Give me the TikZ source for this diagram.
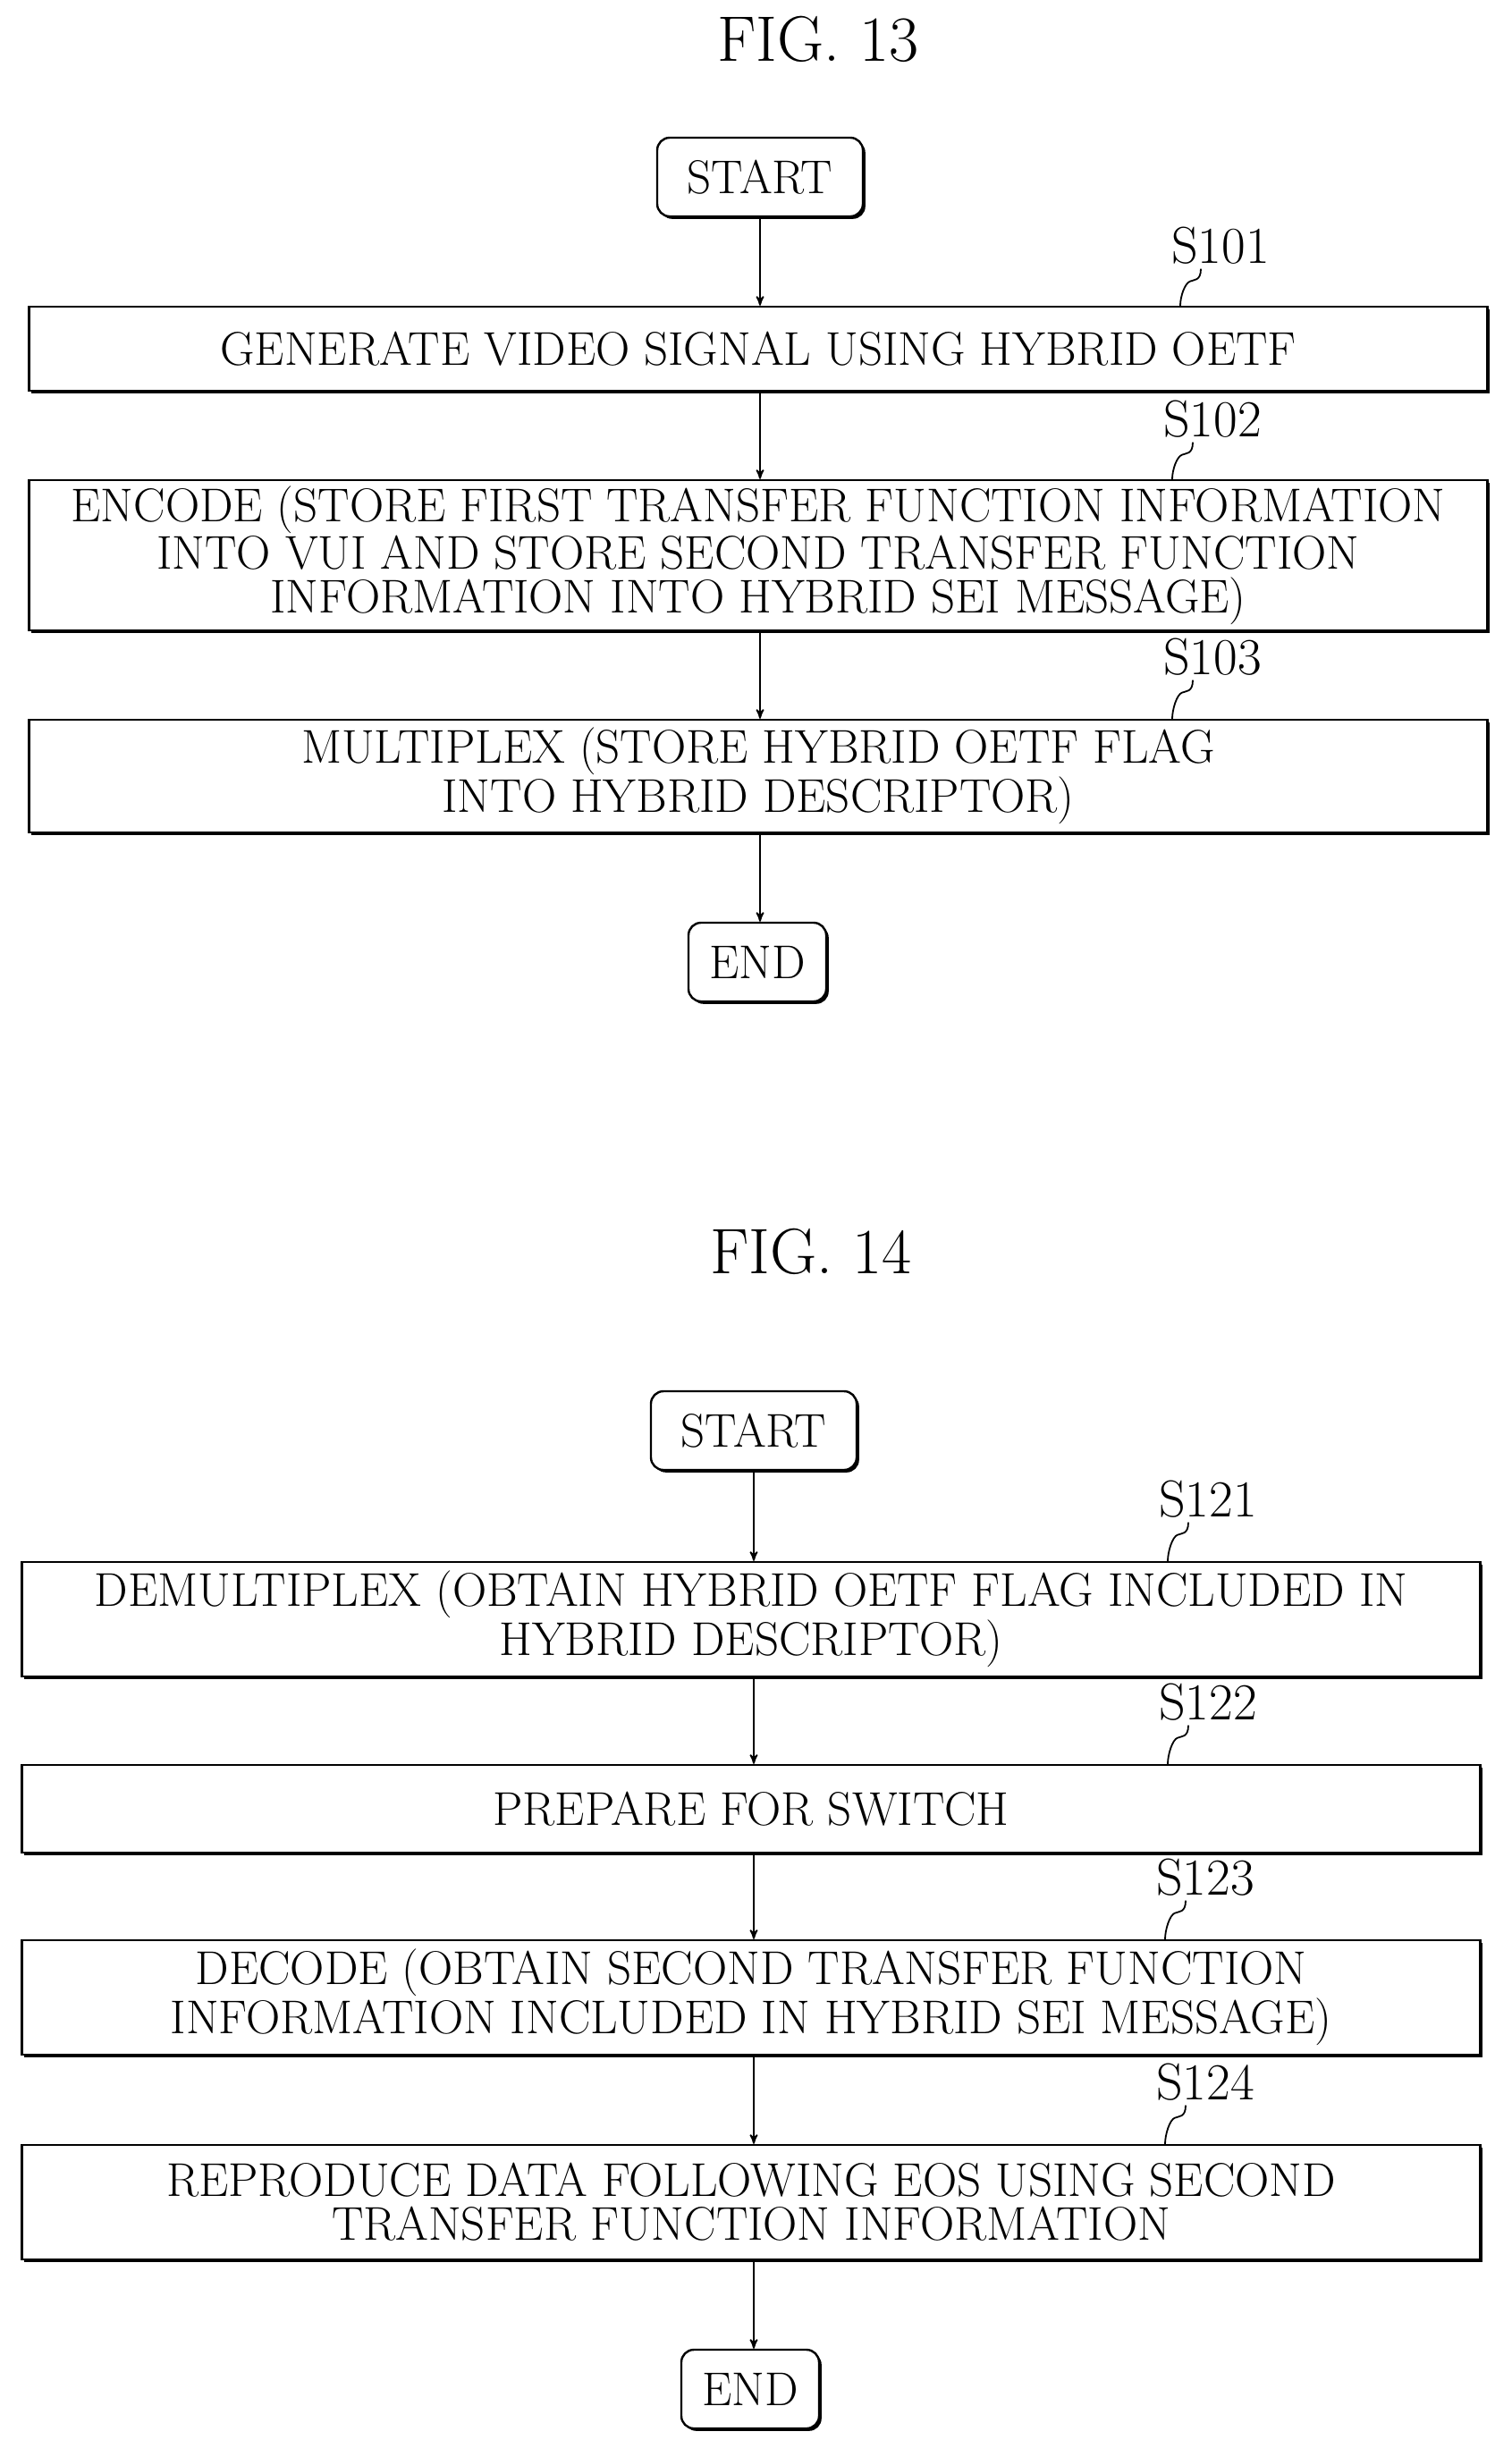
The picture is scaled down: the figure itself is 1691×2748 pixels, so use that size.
\documentclass[tikz,border=0pt]{standalone}
\usepackage{amsmath}
\usetikzlibrary{positioning, arrows, shadows, calc}

\tikzset{
    stepbox/.style={draw, line width=1.2pt, fill=white, minimum width=815.5pt, align=center,
        font=\fontsize{26.5}{24.5}\selectfont, inner sep=3pt,
        drop shadow={shadow xshift=1.4pt, shadow yshift=-1.4pt, fill=black, opacity=1}},
    termbox/.style={draw, line width=1.2pt, fill=white, rounded corners=7pt, minimum height=44pt,
        font=\fontsize{26.5}{24.5}\selectfont, inner xsep=8pt,
        drop shadow={shadow xshift=1.4pt, shadow yshift=-1.4pt, fill=black, opacity=1}},
    steplbl/.style={font=\fontsize{29}{30}\selectfont, inner sep=1pt},
    figlbl/.style={font=\fontsize{36}{38}\selectfont}
}

\begin{document}
\begin{tikzpicture}[>=stealth', x=0.5pt, y=-0.5pt, line width=0.9pt]
        \useasboundingbox (0,0) rectangle (1691,2748);

        % FIG. 13
        \node[figlbl] (fig13) at (915,44) {FIG. 13};
        \node[termbox, minimum width=115pt] (start1) at (850,198) {START};
        \node[stepbox, minimum height=47pt] (s101) at (848,390) {GENERATE VIDEO SIGNAL USING HYBRID OETF};
        \node[stepbox, minimum height=84pt] (s102) at (848,621) {ENCODE (STORE FIRST TRANSFER FUNCTION INFORMATION\\INTO VUI AND STORE SECOND TRANSFER FUNCTION\\INFORMATION INTO HYBRID SEI MESSAGE)};
        \node[stepbox, minimum height=63pt] (s103) at (848,868) {MULTIPLEX (STORE HYBRID OETF FLAG\\INTO HYBRID DESCRIPTOR)};
        \node[termbox, minimum width=77pt] (end1) at (847,1076) {END};

        \node[steplbl] (l101) at (1365,275) {S101};
        \node[steplbl] (l102) at (1356,469) {S102};
        \node[steplbl] (l103) at (1356,735) {S103};

        % FIG. 14
        \node[figlbl] (fig14) at (907,1400) {FIG. 14};
        \node[termbox, minimum width=115pt] (start2) at (843,1600) {START};
        \node[stepbox, minimum height=64pt] (s121) at (840,1811) {DEMULTIPLEX (OBTAIN HYBRID OETF FLAG INCLUDED IN\\HYBRID DESCRIPTOR)};
        \node[stepbox, minimum height=49pt] (s122) at (840,2023) {PREPARE FOR SWITCH};
        \node[stepbox, minimum height=64pt] (s123) at (840,2234) {DECODE (OBTAIN SECOND TRANSFER FUNCTION\\INFORMATION INCLUDED IN HYBRID SEI MESSAGE)};
        \node[stepbox, minimum height=64pt] (s124) at (840,2463) {REPRODUCE DATA FOLLOWING EOS USING SECOND\\TRANSFER FUNCTION INFORMATION};
        \node[termbox, minimum width=77pt] (end2) at (839,2672) {END};

        \node[steplbl] (l121) at (1351,1677) {S121};
        \node[steplbl] (l122) at (1351,1904) {S122};
        \node[steplbl] (l123) at (1348,2100) {S123};
        \node[steplbl] (l124) at (1348,2329) {S124};

        % arrows
        \draw[->] (start1) -- (start1 |- s101.north);
        \draw[->] (start1 |- s101.south) -- (start1 |- s102.north);
        \draw[->] (start1 |- s102.south) -- (start1 |- s103.north);
        \draw[->] (start1 |- s103.south) -- (start1 |- end1.north);
        \draw[->] (start2) -- (start2 |- s121.north);
        \draw[->] (start2 |- s121.south) -- (start2 |- s122.north);
        \draw[->] (start2 |- s122.south) -- (start2 |- s123.north);
        \draw[->] (start2 |- s123.south) -- (start2 |- s124.north);
        \draw[->] (start2 |- s124.south) -- (start2 |- end2.north);

        % leader squiggles
        \foreach \s in {101,102,103,121,122,123,124} {
            \coordinate (t\s) at ($(l\s.south) + (-45,0)$);
            \draw (l\s.south) ++(-22,2) .. controls +(0,14) and +(4,-2) .. ++(-12,14)
                .. controls +(-6,2) and +(0,-10) .. (t\s |- s\s.north);
        }
    \end{tikzpicture}
\end{document}
